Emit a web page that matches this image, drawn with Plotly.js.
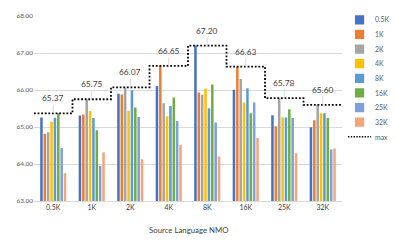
<!DOCTYPE html>
<html>
<head>
<meta charset="utf-8">
<script src="https://cdn.plot.ly/plotly-3.0.1.min.js"></script>
<style>html,body{margin:0;padding:0;background:#fff;}#chart{width:397px;height:245px;}</style>
</head>
<body>
<div id="chart"></div>
<script>
// Categories (source language NMO sizes)
const categories = ["0.5K", "1K", "2K", "4K", "8K", "16K", "25K", "32K"];
// Series names
const seriesNames = ["0.5K", "1K", "2K", "4K", "8K", "16K", "25K", "32K"];
// Series values (one array per series, across categories)
const s_05K = [65.26, 65.31, 65.90, 66.11, 67.20, 66.01, 65.32, 64.99];
const s_1K  = [64.82, 65.34, 65.88, 66.65, 65.93, 66.63, 65.02, 65.18];
const s_2K  = [64.86, 65.75, 66.07, 65.64, 65.87, 66.30, 65.78, 65.60];
const s_4K  = [65.14, 65.43, 65.44, 65.29, 66.04, 65.66, 65.26, 65.37];
const s_8K  = [65.25, 65.24, 65.99, 65.57, 65.51, 66.05, 65.26, 65.37];
const s_16K = [65.37, 64.91, 65.53, 65.80, 66.15, 65.37, 65.48, 65.24];
const s_25K = [64.43, 63.95, 65.27, 65.16, 65.12, 65.66, 65.24, 64.39];
const s_32K = [63.75, 64.32, 64.13, 64.52, 64.20, 64.70, 64.29, 64.42];
// Max per category
const maxValues = [65.37, 65.75, 66.07, 66.65, 67.20, 66.63, 65.78, 65.60];
const yTicks = [63, 64, 65, 66, 67, 68];

const seriesValues = [s_05K, s_1K, s_2K, s_4K, s_8K, s_16K, s_25K, s_32K];
const colors = ["#4472C4", "#ED7D31", "#A5A5A5", "#FFC000", "#5B9BD5", "#70AD47", "#7F9FDB", "#F4A679"];
const FONT = "Lato, 'Open Sans', sans-serif";

const traces = seriesValues.map((vals, i) => ({
  type: "bar",
  name: seriesNames[i],
  x: categories,
  y: vals,
  marker: {color: colors[i]},
  hoverinfo: "skip"
}));

// stepped max line across each category band
const stepX = [], stepY = [];
maxValues.forEach((m, i) => {
  stepX.push(i - 0.5, i + 0.5);
  stepY.push(m, m);
});
traces.push({
  type: "scatter",
  mode: "lines",
  name: "max",
  x: stepX,
  y: stepY,
  xaxis: "x2",
  line: {color: "#000000", width: 1.8, dash: "1.8px,1.8px"},
  hoverinfo: "skip"
});

const annotations = maxValues.map((m, i) => ({
  x: categories[i],
  y: m,
  xref: "x",
  yref: "y",
  text: m.toFixed(2),
  showarrow: true,
  arrowhead: 0,
  arrowwidth: 0.8,
  arrowcolor: "#d0d0d0",
  ax: 0,
  ay: -15,
  font: {family: FONT, size: 8.4, color: "#404040"}
}));

annotations.push({
  text: "Source Language NMO",
  xref: "paper", yref: "paper",
  x: 0.5, y: -0.12,
  xanchor: "center", yanchor: "top",
  showarrow: false,
  font: {family: FONT, size: 7.8, color: "#404040"}
});

const layout = {
  width: 397,
  height: 245,
  margin: {l: 34, r: 55, t: 16, b: 44, autoexpand: false},
  paper_bgcolor: "#ffffff",
  plot_bgcolor: "#ffffff",
  barmode: "group",
  bargap: 0.3,
  bargroupgap: 0.25,
  font: {family: FONT, color: "#595959"},
  xaxis: {
    type: "category",
    tickfont: {family: FONT, size: 7, color: "#404040"},
    showgrid: false,
    showline: true,
    linecolor: "#d9d9d9",
    linewidth: 1,
    ticks: "",
    range: [-0.5, 7.5],
    automargin: false,
    fixedrange: true
  },
  xaxis2: {
    overlaying: "x",
    range: [-0.5, 7.5],
    visible: false,
    fixedrange: true
  },
  yaxis: {
    range: [63, 68],
    tickvals: yTicks,
    tickformat: ".2f",
    tickfont: {family: FONT, size: 6.5, color: "#595959"},
    showgrid: true,
    gridcolor: "#d9d9d9",
    gridwidth: 1,
    zeroline: false,
    ticks: "",
    automargin: false,
    fixedrange: true
  },
  showlegend: true,
  legend: {
    x: 1.007,
    xanchor: "left",
    y: 1.04,
    yanchor: "top",
    maxheight: 400,
    font: {family: FONT, size: 9, color: "#595959"},
    itemwidth: 30,
    tracegroupgap: 0,
    bgcolor: "rgba(0,0,0,0)"
  },
  annotations: annotations
};

Plotly.newPlot("chart", traces, layout, {displayModeBar: false, staticPlot: true}).then(function () {
  // compact the legend to match the reference's tighter spacing
  const g = document.querySelector("#chart .legend");
  if (g) {
    const t = g.getAttribute("transform") || "";
    g.setAttribute("transform", t + " scale(0.77)");
  }
});
</script>
</body>
</html>
